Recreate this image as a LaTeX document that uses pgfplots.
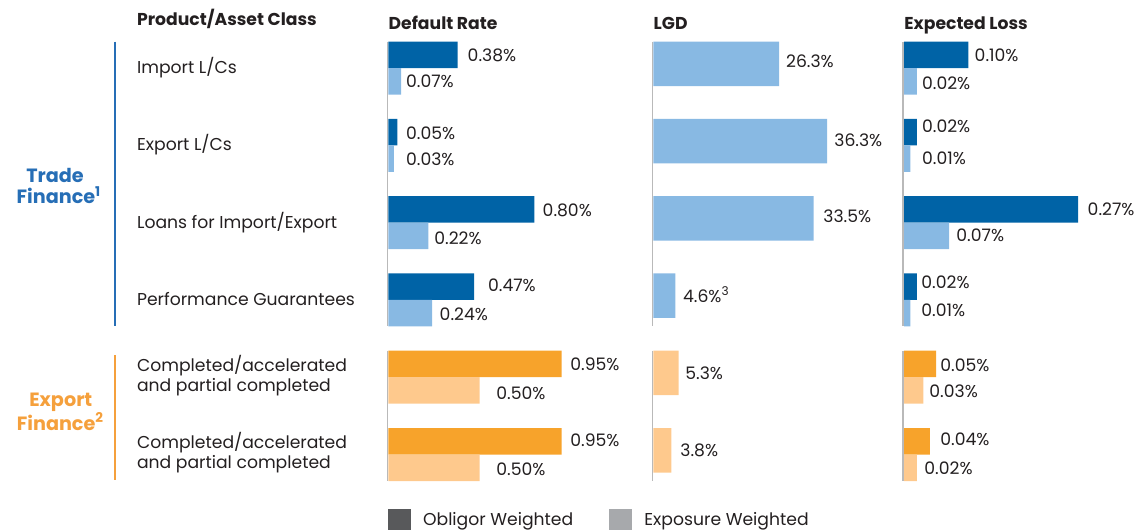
\documentclass[border=0pt]{standalone}
\usepackage{pgfplots}
\pgfplotsset{compat=1.18}
\usepackage{fontspec}
\setmainfont{Poppins}

\definecolor{darkblue}{RGB}{0,99,166}
\definecolor{lightblue}{RGB}{136,185,227}
\definecolor{darkorange}{RGB}{247,163,43}
\definecolor{lightorange}{RGB}{254,201,141}
\definecolor{tfblue}{RGB}{38,110,182}
\definecolor{eforange}{RGB}{245,160,60}
\definecolor{txt}{RGB}{35,31,32}
\definecolor{axgray}{RGB}{185,185,185}
\definecolor{legdark}{RGB}{88,89,91}
\definecolor{leggray}{RGB}{167,169,172}

% one px of the reference = 0.5pt
\pgfplotsset{
  panel/.style={
    hide axis, scale only axis, clip=false, anchor=north west,
    xmin=0, ymin=-531, ymax=0, y=0.5pt,
    xbar, bar shift=0pt, bar width=13.25pt,
  },
  pairbar/.style={xbar, bar shift=0pt, bar width=13.25pt, draw=none},
  lgdbar/.style={xbar, bar shift=0pt, bar width=22.25pt, draw=none},
}

\begin{document}
\begin{tikzpicture}[every node/.style={font=\fontsize{8.6pt}{10pt}\selectfont, text=txt, inner sep=0pt}]

% axis rules and group rules
\begin{scope}[x=0.5pt,y=-0.5pt]
  \foreach \xx in {387.5,652.5,903.2}{
    \draw[axgray, line width=0.8pt] (\xx,41.5) -- (\xx,325.7);
    \draw[axgray, line width=0.8pt] (\xx,350.5) -- (\xx,481);
  }
  \draw[tfblue, line width=1pt] (115,41.7) -- (115,325.5);
  \draw[eforange, line width=1pt] (115,355) -- (115,480);
\end{scope}

% Default Rate
\begin{axis}[panel, at={(194.15pt,0pt)}, x=91.25pt, xmax=1]
  \addplot[pairbar, fill=darkblue] coordinates {(0.38,-54.75) (0.05,-132.05) (0.80,-209.35) (0.47,-286.65)};
  \addplot[pairbar, fill=lightblue] coordinates {(0.07,-81.25) (0.03,-158.55) (0.22,-235.85) (0.24,-313.15)};
  \addplot[pairbar, fill=darkorange] coordinates {(0.95,-363.95) (0.95,-441.25)};
  \addplot[pairbar, fill=lightorange] coordinates {(0.50,-390.45) (0.50,-467.75)};
\end{axis}

% LGD
\begin{axis}[panel, at={(326.65pt,0pt)}, x=2.3925pt, xmax=40]
  \addplot[lgdbar, fill=lightblue] coordinates {(26.3,-63.75) (36.3,-141.05) (33.5,-218.35) (4.6,-295.65)};
  \addplot[lgdbar, fill=lightorange] coordinates {(5.3,-372.95) (3.8,-450.25)};
\end{axis}

% Expected Loss
\begin{axis}[panel, at={(452pt,0pt)}, x=322.2pt, xmax=0.3]
  \addplot[pairbar, fill=darkblue] coordinates {(0.10,-54.75) (0.02,-132.05) (0.27,-209.35) (0.02,-286.65)};
  \addplot[pairbar, fill=lightblue] coordinates {(0.02,-81.25) (0.01,-158.55) (0.07,-235.85) (0.01,-313.15)};
  \addplot[pairbar, fill=darkorange] coordinates {(0.05,-363.95) (0.04,-441.25)};
  \addplot[pairbar, fill=lightorange] coordinates {(0.03,-390.45) (0.02,-467.75)};
\end{axis}

\begin{scope}[x=0.5pt,y=-0.5pt]
  % headers
  \node[anchor=base west, font=\fontsize{8.6pt}{10pt}\selectfont\bfseries] at (136.7,25.7) {Product/Asset Class};
  \node[anchor=base west, font=\fontsize{8.6pt}{10pt}\selectfont\bfseries] at (388.3,29.3) {Default Rate};
  \node[anchor=base west, font=\fontsize{8.6pt}{10pt}\selectfont\bfseries] at (653.3,29.3) {LGD};
  \node[anchor=base west, font=\fontsize{8.6pt}{10pt}\selectfont\bfseries] at (904,29.3) {Expected Loss};

  % group labels
  \node[anchor=base, text=tfblue, font=\fontsize{9.6pt}{11pt}\selectfont\bfseries] at (55,182.3) {Trade};
  \node[anchor=base, text=tfblue, font=\fontsize{9.6pt}{11pt}\selectfont\bfseries] at (59,203.3) {Finance\textsuperscript{1}};
  \node[anchor=base, text=eforange, font=\fontsize{9.6pt}{11pt}\selectfont\bfseries] at (60.8,406.5) {Export};
  \node[anchor=base, text=eforange, font=\fontsize{9.6pt}{11pt}\selectfont\bfseries] at (60.5,430) {Finance\textsuperscript{2}};

  % row labels
  \node[anchor=base west] at (136.7,73.5) {Import L/Cs};
  \node[anchor=base west] at (136.7,150.8) {Export L/Cs};
  \node[anchor=base west] at (136.7,228.1) {Loans for Import/Export};
  \node[anchor=base west] at (136.7,305.4) {Performance Guarantees};
  \node[anchor=base west] at (136.7,371.5) {Completed/accelerated};
  \node[anchor=base west] at (136.7,391.5) {and partial completed};
  \node[anchor=base west] at (136.7,448.5) {Completed/accelerated};
  \node[anchor=base west] at (136.7,468.5) {and partial completed};

  % Default Rate values
  \node[anchor=base west] at (467.3,61) {0.38\%};
  \node[anchor=base west] at (405.7,87) {0.07\%};
  \node[anchor=base west] at (405.7,139.3) {0.05\%};
  \node[anchor=base west] at (405.7,165.3) {0.03\%};
  \node[anchor=base west] at (542.3,216) {0.80\%};
  \node[anchor=base west] at (434,244.3) {0.22\%};
  \node[anchor=base west] at (487.7,291) {0.47\%};
  \node[anchor=base west] at (439.3,320) {0.24\%};
  \node[anchor=base west] at (570,370) {0.95\%};
  \node[anchor=base west] at (496,399) {0.50\%};
  \node[anchor=base west] at (570,446) {0.95\%};
  \node[anchor=base west] at (496,475) {0.50\%};

  % LGD values
  \node[anchor=base west] at (785.7,67) {26.3\%};
  \node[anchor=base west] at (834,146.7) {36.3\%};
  \node[anchor=base west] at (823,222.7) {33.5\%};
  \node[anchor=base west] at (682.7,302.7) {4.6\%\textsuperscript{3}};
  \node[anchor=base west] at (685,379) {5.3\%};
  \node[anchor=base west] at (680,456) {3.8\%};

  % Expected Loss values
  \node[anchor=base west] at (974.3,61) {0.10\%};
  \node[anchor=base west] at (921.7,89.3) {0.02\%};
  \node[anchor=base west] at (921.7,132.7) {0.02\%};
  \node[anchor=base west] at (921.7,164.3) {0.01\%};
  \node[anchor=base west] at (1087.3,215.3) {0.27\%};
  \node[anchor=base west] at (956,241) {0.07\%};
  \node[anchor=base west] at (921,288.7) {0.02\%};
  \node[anchor=base west] at (921,316.7) {0.01\%};
  \node[anchor=base west] at (940,371) {0.05\%};
  \node[anchor=base west] at (929,397.7) {0.03\%};
  \node[anchor=base west] at (940,445) {0.04\%};
  \node[anchor=base west] at (924,474) {0.02\%};

  % legend
  \fill[legdark] (388.3,509.3) rectangle (410.7,529.5);
  \node[anchor=base west] at (422.7,525.5) {Obligor Weighted};
  \fill[leggray] (609.3,509.3) rectangle (631.7,529.5);
  \node[anchor=base west] at (644,525.5) {Exposure Weighted};
\end{scope}

\pgfresetboundingbox
\path[use as bounding box] (0,0) rectangle (572.5pt,-265.5pt);
\end{tikzpicture}
\end{document}
